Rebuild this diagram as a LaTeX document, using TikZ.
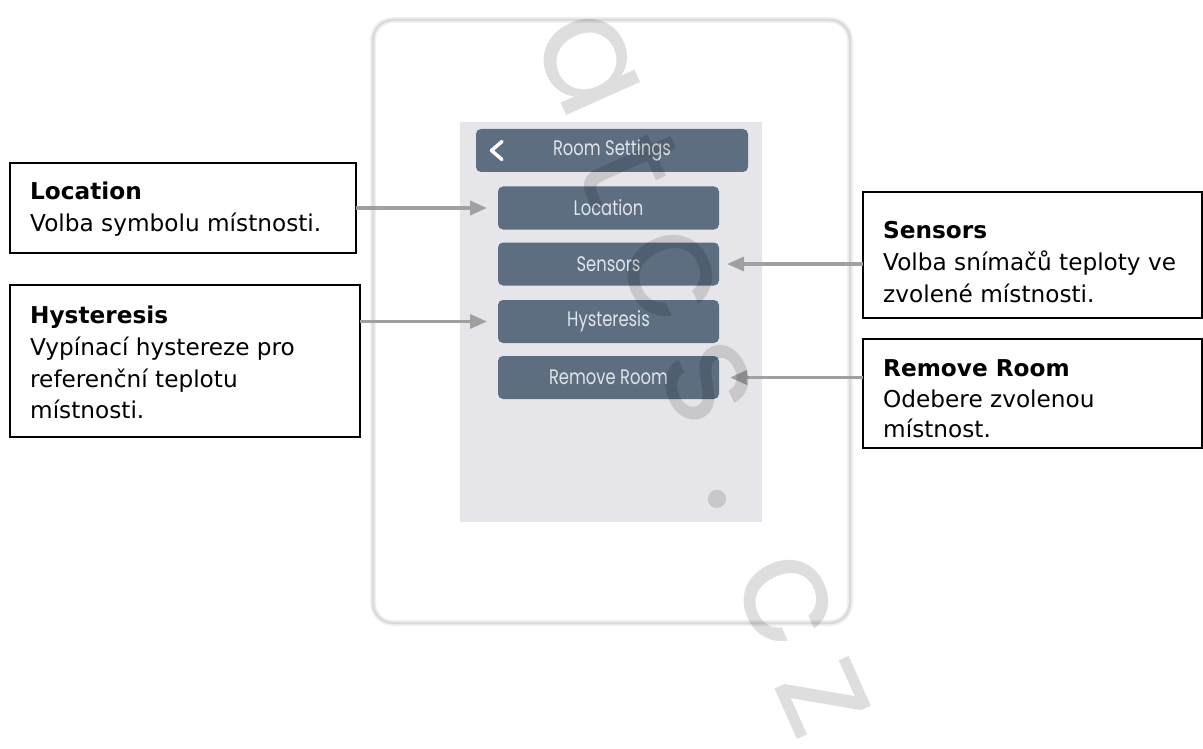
\documentclass[tikz,border=0pt]{standalone}
\usepackage{fontspec}
\setmainfont{DejaVu Sans}
\newfontfamily\uifont{Poppins}
\usetikzlibrary{arrows.meta}
\definecolor{slate}{RGB}{92,110,128}
\definecolor{uitext}{RGB}{222,228,233}
\definecolor{screengray}{RGB}{230,230,234}
\definecolor{framegray}{RGB}{218,218,218}
\definecolor{frameglow}{RGB}{240,240,240}
\definecolor{arrowgray}{RGB}{160,160,160}
\begin{document}
\begin{tikzpicture}[x=1pt,y=-1pt,
  infobox/.style={draw=black,line width=1.2pt,inner sep=0pt,outer sep=0pt,anchor=north west},
  boxtext/.style={anchor=base west,inner sep=0pt,text=black,font=\fontsize{23.2}{30}\selectfont},
  boxtitle/.style={anchor=base west,inner sep=0pt,text=black,font=\fontsize{23.2}{30}\selectfont\bfseries},
  uibtn/.style={fill=slate,rounded corners=5pt,inner sep=0pt,outer sep=0pt,minimum width=221pt,minimum height=43pt,text=uitext,font=\uifont\fontsize{21}{21}\selectfont},
  callout/.style={draw=arrowgray,line width=3.4pt,-{Triangle[length=17pt,width=14pt]}},
  wmark/.style={inner sep=0pt,text=black,text opacity=0.13,rotate=-66,font=\uifont\fontsize{148}{148}\selectfont}
]
\useasboundingbox (0,0) rectangle (1203,749);

% device housing
\node[draw=frameglow,line width=6pt,rounded corners=20pt,minimum width=477pt,minimum height=603pt,inner sep=0pt] (housing) at (611.5,321.5) {};
\node[draw=framegray,line width=2.5pt,rounded corners=20pt,minimum width=477pt,minimum height=603pt,inner sep=0pt] (housingedge) at (611.5,321.5) {};

% display
\node[fill=screengray,minimum width=302pt,minimum height=400pt,inner sep=0pt] (screen) at (611,322) {};

% title bar with back chevron
\node[uibtn,minimum width=272pt] (header) at (612,150.5) {\scalebox{0.78}[1]{Room Settings}};
\draw[white,line width=3.5pt,line cap=round,line join=round] (502,141.5) -- (491.5,150.5) -- (502,159.5);

% menu buttons
\node[uibtn] (btnloc) at (608.5,208) {\scalebox{0.78}[1]{Location}};
\node[uibtn] (btnsen) at (608.5,264) {\scalebox{0.78}[1]{Sensors}};
\node[uibtn] (btnhys) at (608.5,321.5) {\scalebox{0.78}[1]{Hysteresis}};
\node[uibtn] (btnrem) at (608.5,377.5) {\scalebox{0.78}[1]{Remove Room}};

% description boxes
\node[infobox,minimum width=346pt,minimum height=90pt] (locbox) at (10,163) {};
\node[boxtitle] (loctitle) at (30,200) {Location};
\node[boxtext] (locline1) at (30,232) {Volba symbolu místnosti.};

\node[infobox,minimum width=350pt,minimum height=152pt] (hysbox) at (10,285) {};
\node[boxtitle] (hystitle) at (30,323) {Hysteresis};
\node[boxtext] (hysline1) at (30,355) {Vypínací hystereze pro};
\node[boxtext] (hysline2) at (30,387) {referenční teplotu};
\node[boxtext] (hysline3) at (30,418) {místnosti.};

\node[infobox,minimum width=339pt,minimum height=126pt] (senbox) at (863,192) {};
\node[boxtitle] (sentitle) at (883,238) {Sensors};
\node[boxtext] (senline1) at (883,270) {Volba snímačů teploty ve};
\node[boxtext] (senline2) at (883,302) {zvolené místnosti.};

\node[infobox,minimum width=339pt,minimum height=109pt] (rembox) at (863,339) {};
\node[boxtitle] (remtitle) at (883,376) {Remove Room};
\node[boxtext] (remline1) at (883,407) {Odebere zvolenou};
\node[boxtext] (remline2) at (883,437) {místnost.};

% callout arrows
\draw[callout,shorten >=11pt] (locbox.east |- btnloc.west) -- (btnloc.west);
\draw[callout,shorten >=11pt] (hysbox.east |- btnhys.west) -- (btnhys.west);
\draw[callout,shorten >=8pt] (senbox.west |- btnsen.east) -- (btnsen.east);
\draw[callout,shorten >=11pt] (rembox.west |- btnrem.east) -- (btnrem.east);

% diagonal watermark
\node[wmark] (wm1) at (588,64) {a};
\node[wmark] (wm2) at (630,168) {t};
\node[wmark] (wm3) at (670,275) {c};
\node[wmark] (wm4) at (707,382) {s};
\node[wmark] (wm5) at (717,499) {.};
\node[wmark] (wm6) at (786,600) {c};
\node[wmark] (wm7) at (823,698) {z};
\end{tikzpicture}
\end{document}
